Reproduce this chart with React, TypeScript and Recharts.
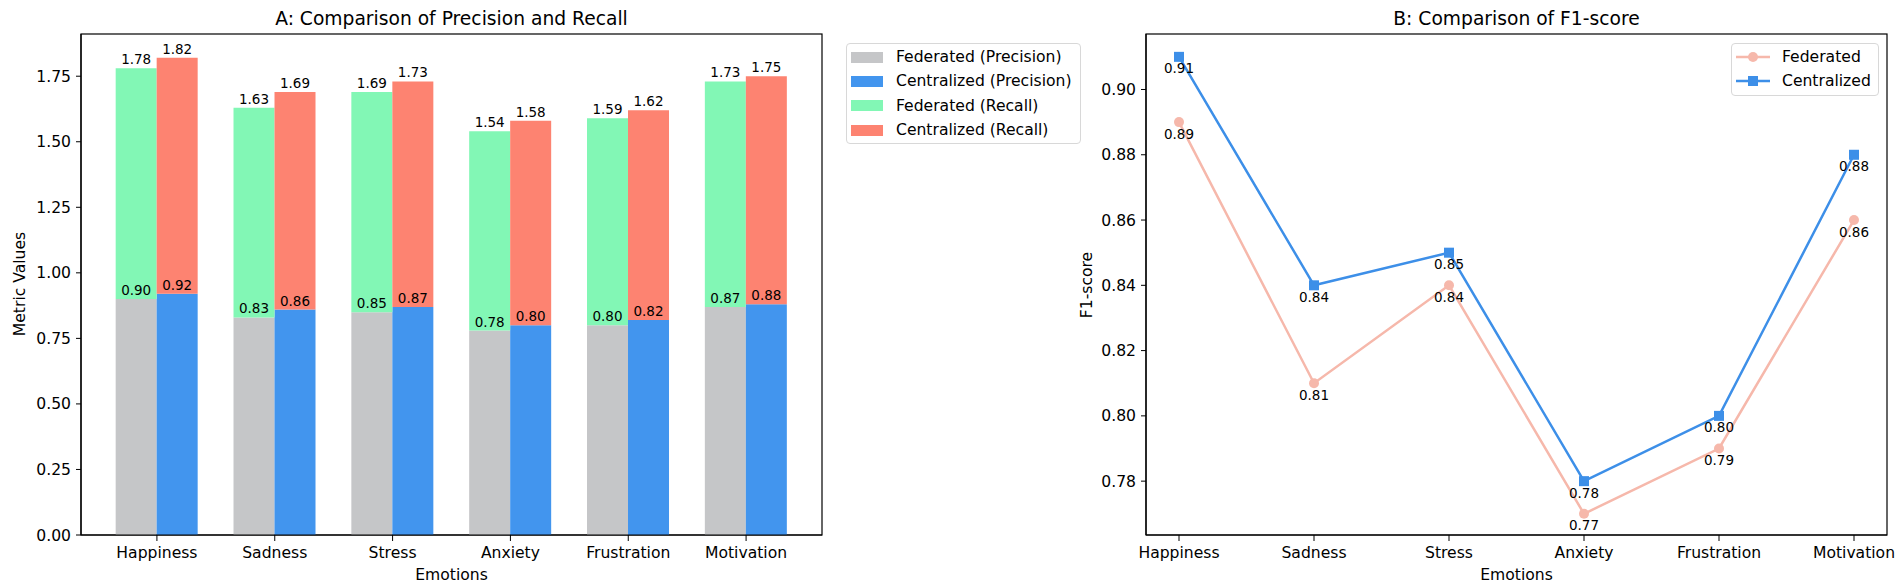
import * as React from 'react';
import * as RC from 'recharts';
import {
  BarChart,
  Bar,
  LineChart,
  Line,
  XAxis,
  YAxis,
  Legend,
  LabelList,
} from 'recharts';

const FONT = '"DejaVu Sans", Verdana, sans-serif';

export const emotions = ['Happiness', 'Sadness', 'Stress', 'Anxiety', 'Frustration', 'Motivation'];

export const fedPrecision = [0.9, 0.83, 0.85, 0.78, 0.8, 0.87];
export const cenPrecision = [0.92, 0.86, 0.87, 0.8, 0.82, 0.88];
export const fedRecall = [0.88, 0.8, 0.84, 0.76, 0.79, 0.86];
export const cenRecall = [0.9, 0.83, 0.86, 0.78, 0.8, 0.87];

export const fedF1 = [0.89, 0.81, 0.84, 0.77, 0.79, 0.86];
export const cenF1 = [0.91, 0.84, 0.85, 0.78, 0.8, 0.88];

export const barTicks = [0, 0.25, 0.5, 0.75, 1.0, 1.25, 1.5, 1.75];
export const f1Ticks = [0.78, 0.8, 0.82, 0.84, 0.86, 0.88, 0.9];

const barLegendOrder = ['fedPrec', 'cenPrec', 'fedRec', 'cenRec'];
const lineLegendOrder = ['federated', 'centralized'];

const COLORS = {
  fedPrec: '#c5c6c8',
  cenPrec: '#4295ee',
  fedRec: '#82f7b5',
  cenRec: '#fd8371',
  fedLine: '#f6b8ab',
  cenLine: '#3d8fe8',
};

const barData = emotions.map((emotion, i) => ({
  emotion,
  fedPrec: fedPrecision[i],
  cenPrec: cenPrecision[i],
  fedRec: fedRecall[i],
  cenRec: cenRecall[i],
}));

const lineData = emotions.map((emotion, i) => ({
  emotion,
  federated: fedF1[i],
  centralized: cenF1[i],
}));

const tickStyle = { fontSize: 15.6, fill: '#000', fontFamily: FONT };
const labelStyle = { fontSize: 13.5, fill: '#000', fontFamily: FONT };
const axisLine = { stroke: '#000', strokeWidth: 1.2 };
const fmt = (v: unknown) => Number(v).toFixed(2);

const sortBy = (items: any[], order: string[]) =>
  [...items].sort((a, b) => order.indexOf(String(a.dataKey)) - order.indexOf(String(b.dataKey)));

// axes frame (top + right spines) drawn from the chart's own plot area
const usePlotArea: any = (RC as any).usePlotArea;
function Frame() {
  const area = usePlotArea ? usePlotArea() : null;
  if (!area) return null;
  return (
    <rect
      x={area.x}
      y={area.y}
      width={area.width}
      height={area.height}
      fill="none"
      stroke="#000"
      strokeWidth={1.2}
    />
  );
}

function BarLegend(props: any) {
  const items = sortBy(props.payload ?? [], barLegendOrder);
  return (
    <div
      style={{
        width: 233,
        height: 98,
        border: '1px solid #d8d8d8',
        borderRadius: 4,
        background: 'rgba(255,255,255,0.8)',
        paddingTop: 1,
        boxSizing: 'content-box',
        fontFamily: FONT,
        fontSize: 15.6,
      }}
    >
      {items.map((item: any) => (
        <div key={item.value} style={{ display: 'flex', alignItems: 'center', height: 24.3 }}>
          <span style={{ width: 32, height: 11, marginLeft: 4, marginRight: 13, background: item.color }} />
          <span style={{ color: '#000' }}>{item.value}</span>
        </div>
      ))}
    </div>
  );
}

function LineLegend(props: any) {
  const items = sortBy(props.payload ?? [], lineLegendOrder);
  return (
    <div
      style={{
        width: 146,
        height: 50,
        border: '1px solid #d8d8d8',
        borderRadius: 4,
        background: 'rgba(255,255,255,0.8)',
        paddingTop: 1,
        boxSizing: 'content-box',
        fontFamily: FONT,
        fontSize: 15.6,
      }}
    >
      {items.map((item: any) => (
        <div key={item.value} style={{ display: 'flex', alignItems: 'center', height: 24.3 }}>
          <svg width={34} height={12} style={{ marginLeft: 4, marginRight: 12 }}>
            <line x1={0} y1={6} x2={34} y2={6} stroke={item.color} strokeWidth={2.5} />
            {item.dataKey === 'centralized' ? (
              <rect x={12} y={1} width={10} height={10} fill={item.color} />
            ) : (
              <circle cx={17} cy={6} r={5} fill={item.color} />
            )}
          </svg>
          <span style={{ color: '#000' }}>{item.value}</span>
        </div>
      ))}
    </div>
  );
}

function SquareDot(props: any) {
  const { cx, cy, index } = props;
  if (cx == null || cy == null) return <g key={`sq-${index}`} />;
  return <rect key={`sq-${index}`} x={cx - 5} y={cy - 5} width={10} height={10} fill={COLORS.cenLine} />;
}

function PrecisionRecallChart() {
  return (
    <BarChart
      width={1100}
      height={588}
      data={barData}
      margin={{ top: 34, right: 278, bottom: 0, left: 0 }}
      barCategoryGap="15%"
      barGap={0}
    >
      <XAxis
        dataKey="emotion"
        height={53}
        padding={{ left: 17, right: 17 }}
        tick={tickStyle}
        tickSize={6}
        tickMargin={6}
        tickLine={{ stroke: '#000' }}
        axisLine={axisLine}
      />
      <YAxis
        width={81}
        domain={[0, 1.911]}
        ticks={barTicks}
        allowDataOverflow
        tickFormatter={fmt}
        tick={tickStyle}
        tickSize={5}
        tickMargin={5}
        tickLine={{ stroke: '#000' }}
        axisLine={axisLine}
      />
      <Legend
        content={<BarLegend />}
        layout="vertical"
        align="center"
        verticalAlign="middle"
        wrapperStyle={{ left: 846, top: 43, width: 235, height: 100 }}
      />
      <Bar dataKey="fedPrec" name="Federated (Precision)" stackId="fed" fill={COLORS.fedPrec} isAnimationActive={false} />
      <Bar dataKey="cenPrec" name="Centralized (Precision)" stackId="cen" fill={COLORS.cenPrec} isAnimationActive={false} />
      <Bar dataKey="fedRec" name="Federated (Recall)" stackId="fed" fill={COLORS.fedRec} isAnimationActive={false}>
        <LabelList
          position="insideBottom"
          offset={4}
          valueAccessor={(_: unknown, i: number) => fedPrecision[i]}
          formatter={fmt}
          {...labelStyle}
        />
        <LabelList
          position="top"
          offset={4}
          valueAccessor={(_: unknown, i: number) => fedPrecision[i] + fedRecall[i]}
          formatter={fmt}
          {...labelStyle}
        />
      </Bar>
      <Bar dataKey="cenRec" name="Centralized (Recall)" stackId="cen" fill={COLORS.cenRec} isAnimationActive={false}>
        <LabelList
          position="insideBottom"
          offset={4}
          valueAccessor={(_: unknown, i: number) => cenPrecision[i]}
          formatter={fmt}
          {...labelStyle}
        />
        <LabelList
          position="top"
          offset={4}
          valueAccessor={(_: unknown, i: number) => cenPrecision[i] + cenRecall[i]}
          formatter={fmt}
          {...labelStyle}
        />
      </Bar>
      <Frame />
    </BarChart>
  );
}

function F1Chart() {
  return (
    <LineChart width={862} height={588} data={lineData} margin={{ top: 34, right: 15, bottom: 0, left: 0 }}>
      <XAxis
        dataKey="emotion"
        height={53}
        padding={{ left: 33, right: 33 }}
        tick={tickStyle}
        tickSize={6}
        tickMargin={6}
        tickLine={{ stroke: '#000' }}
        axisLine={axisLine}
      />
      <YAxis
        width={106}
        domain={[0.7635, 0.917]}
        ticks={f1Ticks}
        allowDataOverflow
        tickFormatter={fmt}
        tick={tickStyle}
        tickSize={5}
        tickMargin={5}
        tickLine={{ stroke: '#000' }}
        axisLine={axisLine}
      />
      <Legend
        content={<LineLegend />}
        layout="vertical"
        align="center"
        verticalAlign="middle"
        wrapperStyle={{ left: 691, top: 43, width: 148, height: 52 }}
      />
      <Line
        dataKey="federated"
        name="Federated"
        stroke={COLORS.fedLine}
        strokeWidth={2.5}
        dot={{ r: 5, fill: COLORS.fedLine, stroke: COLORS.fedLine, strokeWidth: 0 }}
        activeDot={false}
        isAnimationActive={false}
      >
        <LabelList position="bottom" offset={7} formatter={fmt} {...labelStyle} />
      </Line>
      <Line
        dataKey="centralized"
        name="Centralized"
        stroke={COLORS.cenLine}
        strokeWidth={2.5}
        dot={<SquareDot />}
        activeDot={false}
        isAnimationActive={false}
      >
        <LabelList position="bottom" offset={7} formatter={fmt} {...labelStyle} />
      </Line>
      <Frame />
    </LineChart>
  );
}

export default function App() {
  return (
    <div
      style={{
        position: 'absolute',
        left: 0,
        top: 0,
        width: 1902,
        height: 588,
        background: '#fff',
        fontFamily: FONT,
        overflow: 'hidden',
      }}
    >
      <div style={{ position: 'absolute', left: 0, top: 0 }}>
        <PrecisionRecallChart />
      </div>
      <div style={{ position: 'absolute', left: 1040, top: 0 }}>
        <F1Chart />
      </div>
      <svg
        width={1902}
        height={588}
        style={{ position: 'absolute', left: 0, top: 0, pointerEvents: 'none' }}
        fontFamily={FONT}
      >
        <text x={451.5} y={25} textAnchor="middle" fontSize={18.7} fill="#000">
          A: Comparison of Precision and Recall
        </text>
        <text x={1516.5} y={25} textAnchor="middle" fontSize={18.7} fill="#000">
          B: Comparison of F1-score
        </text>
        <text x={451.5} y={580} textAnchor="middle" fontSize={15.6} fill="#000">
          Emotions
        </text>
        <text x={1516.5} y={580} textAnchor="middle" fontSize={15.6} fill="#000">
          Emotions
        </text>
        <text x={25} y={284} textAnchor="middle" fontSize={15.6} fill="#000" transform="rotate(-90 25 284)">
          Metric Values
        </text>
        <text x={1092} y={285} textAnchor="middle" fontSize={15.6} fill="#000" transform="rotate(-90 1092 285)">
          F1-score
        </text>
      </svg>
    </div>
  );
}
